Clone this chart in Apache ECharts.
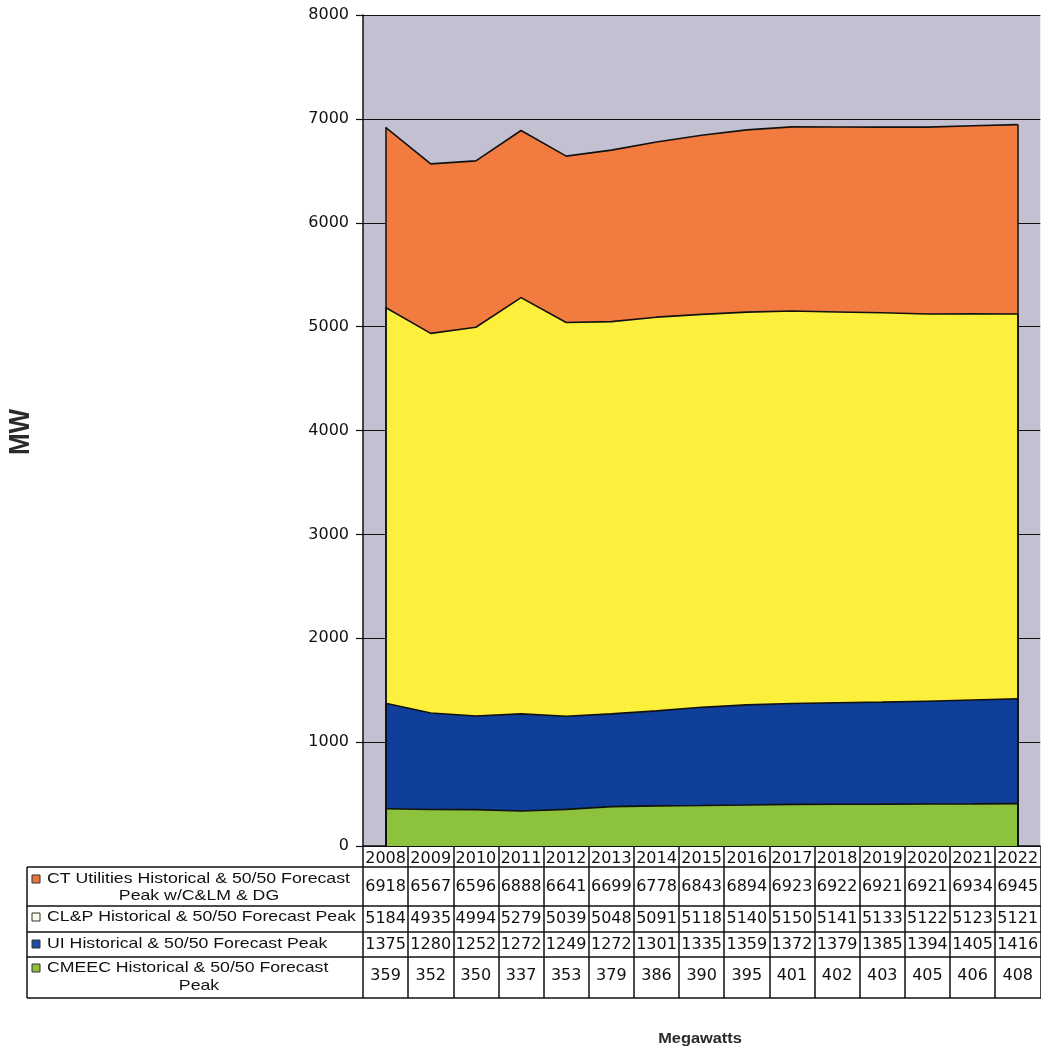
<!DOCTYPE html>
<html>
<head>
<meta charset="utf-8">
<script src="https://cdn.jsdelivr.net/npm/echarts@6/dist/echarts.min.js"></script>
<style>
  html, body { margin: 0; padding: 0; background: #ffffff; }
  #chart { width: 1041px; height: 1047px; }
</style>
</head>
<body>
<div id="chart"></div>
<script>
// Connecticut peak load, historical and 50/50 forecast (MW)
const years = ['2008', '2009', '2010', '2011', '2012', '2013', '2014', '2015', '2016', '2017', '2018', '2019', '2020', '2021', '2022'];
const ctUtilities = [6918, 6567, 6596, 6888, 6641, 6699, 6778, 6843, 6894, 6923, 6922, 6921, 6921, 6934, 6945];
const clp = [5184, 4935, 4994, 5279, 5039, 5048, 5091, 5118, 5140, 5150, 5141, 5133, 5122, 5123, 5121];
const ui = [1375, 1280, 1252, 1272, 1249, 1272, 1301, 1335, 1359, 1372, 1379, 1385, 1394, 1405, 1416];
const cmeec = [359, 352, 350, 337, 353, 379, 386, 390, 395, 401, 402, 403, 405, 406, 408];

const ctLabel = ['CT Utilities Historical & 50/50 Forecast', 'Peak w/C&LM & DG'];
const clpLabel = ['CL&P Historical & 50/50 Forecast Peak'];
const uiLabel = ['UI Historical & 50/50 Forecast Peak'];
const cmeecLabel = ['CMEEC Historical & 50/50 Forecast', 'Peak'];

const yMin = 0, yMax = 8000, yStep = 1000;
const yAxisTitle = 'MW';
const xAxisTitle = 'Megawatts';

const INK = '#111111';
const rows = [
  { label: ctLabel, data: ctUtilities, fill: '#f27b3f', key: '#e8753c' },
  { label: clpLabel, data: clp, fill: '#fcf03d', key: '#fbf9e6' },
  { label: uiLabel, data: ui, fill: '#0f3f9b', key: '#1d4aa3' },
  { label: cmeecLabel, data: cmeec, fill: '#8dc23d', key: '#8dc23d' }
];

const last = years.length - 1;

function areaSeries(row) {
  const d = row.data;
  return {
    name: row.label.join(' '),
    type: 'line',
    data: d,
    symbol: 'none',
    showSymbol: false,
    lineStyle: { color: INK, width: 1.6 },
    areaStyle: { color: row.fill, opacity: 1 },
    markLine: {
      silent: true,
      symbol: 'none',
      label: { show: false },
      lineStyle: { color: INK, width: 1.5, type: 'solid' },
      data: [
        [{ coord: [years[0], 0] }, { coord: [years[0], d[0]] }],
        [{ coord: [years[last], 0] }, { coord: [years[last], d[last]] }]
      ]
    }
  };
}

const chart = echarts.init(document.getElementById('chart'), null, { renderer: 'canvas' });

chart.setOption({
  animation: false,
  backgroundColor: '#ffffff',
  grid: {
    left: 363, right: -2, top: 15, bottom: 201,
    show: true, backgroundColor: '#c3c0d2', borderWidth: 0
  },
  xAxis: {
    type: 'category',
    data: years,
    boundaryGap: true,
    axisLine: { show: true, lineStyle: { color: INK, width: 1.5 } },
    axisTick: { show: true, interval: 0, length: 152, lineStyle: { color: INK, width: 1.5 } },
    axisLabel: { interval: 0, margin: 5, fontFamily: 'DejaVu Sans', fontSize: 16, color: INK },
    splitLine: { show: false }
  },
  yAxis: {
    type: 'value',
    min: yMin, max: yMax, interval: yStep,
    axisLine: { show: true, lineStyle: { color: INK, width: 1.5 } },
    axisTick: { show: true, length: 7, lineStyle: { color: INK, width: 1.2 } },
    axisLabel: { margin: 14, fontFamily: 'DejaVu Sans', fontSize: 16, color: INK,
      formatter: v => String(v) },
    splitLine: { show: true, lineStyle: { color: INK, width: 1.2 } }
  },
  series: rows.map(areaSeries)
});

// Data table under the plot: row rules, legend keys, labels and values
const tableLeft = 27, tableRight = 1041;
const ruleY = [867, 906, 932, 957, 998];
const firstLineY = [879, 917, 944, 968];
const secondLineY = [896, null, null, 986];
const valueY = [887, 919, 944.5, 976];

const colX = years.map(y => chart.convertToPixel({ xAxisIndex: 0 }, y));

const g = [];
ruleY.forEach(y => {
  g.push({ type: 'line', silent: true, shape: { x1: tableLeft, y1: y, x2: tableRight, y2: y },
    style: { stroke: INK, lineWidth: 1.5 } });
});
g.push({ type: 'line', silent: true,
  shape: { x1: tableLeft, y1: ruleY[0], x2: tableLeft, y2: ruleY[ruleY.length - 1] },
  style: { stroke: INK, lineWidth: 1.5 } });

rows.forEach((row, r) => {
  g.push({ type: 'rect', silent: true,
    shape: { x: 32, y: firstLineY[r] - 4, width: 8, height: 8 },
    style: { fill: row.key, stroke: '#333', lineWidth: 1 } });
  g.push({ type: 'text', silent: true, x: 47, y: firstLineY[r], scaleX: 1.18,
    style: { text: row.label[0], fontFamily: 'Liberation Sans', fontSize: 15, fill: INK,
      align: 'left', verticalAlign: 'middle' } });
  if (row.label[1]) {
    g.push({ type: 'text', silent: true, x: 199, y: secondLineY[r], scaleX: 1.18,
      style: { text: row.label[1], fontFamily: 'Liberation Sans', fontSize: 15, fill: INK,
        align: 'center', verticalAlign: 'middle' } });
  }
  row.data.forEach((v, i) => {
    g.push({ type: 'text', silent: true, x: colX[i], y: valueY[r],
      style: { text: String(v), fontFamily: 'DejaVu Sans', fontSize: 16, fill: INK,
        align: 'center', verticalAlign: 'middle' } });
  });
});

// Axis titles
g.push({ type: 'text', silent: true, x: 21, y: 432, rotation: Math.PI / 2, scaleY: 1.15,
  style: { text: yAxisTitle, fontFamily: 'Liberation Sans', fontWeight: 'bold', fontSize: 26,
    fill: '#2a2a2a', align: 'center', verticalAlign: 'middle' } });
g.push({ type: 'text', silent: true, x: 700, y: 1039, scaleX: 1.17,
  style: { text: xAxisTitle, fontFamily: 'Liberation Sans', fontWeight: 'bold', fontSize: 14,
    fill: '#2a2a2a', align: 'center', verticalAlign: 'middle' } });

chart.setOption({ graphic: { elements: g } });
</script>
</body>
</html>
